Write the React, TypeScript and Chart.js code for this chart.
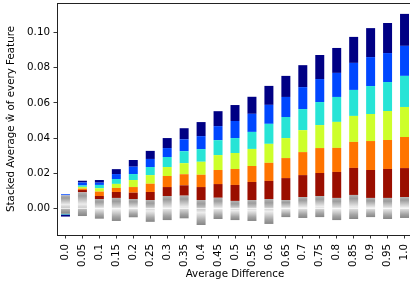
import React, { useEffect, useRef } from "react";
import { Chart, registerables } from "chart.js";

Chart.register(...registerables);

const categories = ["0.0", "0.05", "0.1", "0.15", "0.2", "0.25", "0.3", "0.35", "0.4", "0.45", "0.5", "0.55", "0.6", "0.65", "0.7", "0.75", "0.8", "0.85", "0.9", "0.95", "1.0"];

const grayTop = [0.0074, 0.0091, 0.0053, 0.0059, 0.0053, 0.0047, 0.007, 0.0072, 0.0047, 0.006, 0.0042, 0.0047, 0.0053, 0.0047, 0.0064, 0.007, 0.0059, 0.0076, 0.0059, 0.0059, 0.0064];
const grayBottom = [-0.0031, -0.0044, -0.0059, -0.0072, -0.0051, -0.0077, -0.0067, -0.0057, -0.0095, -0.0061, -0.0067, -0.0072, -0.0089, -0.005, -0.0055, -0.005, -0.0067, -0.0061, -0.005, -0.0061, -0.0055];

const redVals = [0, 0.0013, 0.0017, 0.0034, 0.0036, 0.0046, 0.0051, 0.0059, 0.0074, 0.0078, 0.0091, 0.0103, 0.0103, 0.0125, 0.0125, 0.0131, 0.0148, 0.0154, 0.0159, 0.0165, 0.0165];
const orangeVals = [0, 0.0008, 0.0025, 0.0023, 0.0032, 0.0047, 0.0063, 0.0063, 0.007, 0.008, 0.0091, 0.0091, 0.0103, 0.0114, 0.0131, 0.0142, 0.0137, 0.0148, 0.0165, 0.0165, 0.0177];
const yellowVals = [0, 0.001, 0.0019, 0.0023, 0.004, 0.0049, 0.0051, 0.0063, 0.0074, 0.0085, 0.0091, 0.0097, 0.0108, 0.0114, 0.0125, 0.0131, 0.0148, 0.0148, 0.0154, 0.0165, 0.0171];
const cyanVals = [-0.0004, 0.0008, 0.0019, 0.0028, 0.0034, 0.0046, 0.0057, 0.0068, 0.0072, 0.0085, 0.0085, 0.0097, 0.0114, 0.012, 0.012, 0.0131, 0.0142, 0.0148, 0.0159, 0.0165, 0.0177];
const blueVals = [0.0006, 0.0017, 0.0013, 0.0028, 0.0042, 0.0046, 0.0051, 0.0068, 0.0074, 0.008, 0.0097, 0.0103, 0.0108, 0.0114, 0.0125, 0.0131, 0.0137, 0.0154, 0.0165, 0.0165, 0.0171];
const navyVals = [-0.0012, 0.001, 0.0015, 0.0028, 0.0038, 0.0046, 0.0057, 0.0063, 0.008, 0.0085, 0.0091, 0.0097, 0.0108, 0.012, 0.0125, 0.0137, 0.0142, 0.0148, 0.0165, 0.0171, 0.0182];

const yTicks = [0, 0.02, 0.04, 0.06, 0.08, 0.1];

const FONT = { family: "'DejaVu Sans', sans-serif", size: 10.3 };

const grayStops: [number, string][] = [
  [0, "#b4b4b4"],
  [0.15, "#9c9c9c"],
  [0.35, "#cacaca"],
  [0.5, "#ececec"],
  [0.65, "#cccccc"],
  [0.82, "#a4a4a4"],
  [1, "#858585"],
];

function grayFill(ctx: any) {
  const chart = ctx.chart;
  const ys = chart.scales && chart.scales.y;
  if (!ys || ctx.type !== "data") return "#c0c0c0";
  const i = ctx.dataIndex;
  const y0 = ys.getPixelForValue(grayTop[i]);
  const y1 = ys.getPixelForValue(grayBottom[i]);
  if (!isFinite(y0) || !isFinite(y1) || y0 === y1) return "#c0c0c0";
  const g = chart.ctx.createLinearGradient(0, y0, 0, y1);
  grayStops.forEach(([o, c]) => g.addColorStop(o, c));
  return g;
}

const topSpine = {
  id: "topSpine",
  afterDraw(chart: any) {
    const { ctx, chartArea } = chart;
    ctx.save();
    ctx.strokeStyle = "#222";
    ctx.lineWidth = 1;
    ctx.beginPath();
    ctx.moveTo(chartArea.left, chartArea.top + 0.5);
    ctx.lineTo(chartArea.right, chartArea.top + 0.5);
    ctx.stroke();
    ctx.restore();
  },
};

export default function App() {
  const ref = useRef<HTMLCanvasElement>(null);
  useEffect(() => {
    if (!ref.current) return;
    const mk = (label: string, data: number[], color: any) => ({
      label,
      data,
      backgroundColor: color,
      borderWidth: 0,
      barPercentage: 0.53,
      categoryPercentage: 1,
    });
    const noPad = (s: any) => {
      s.paddingTop = 0;
      s.paddingBottom = 0;
      s.paddingLeft = 0;
      s.paddingRight = 0;
    };
    const chart = new Chart(ref.current, {
      type: "bar",
      data: {
        labels: categories,
        datasets: [
          mk("grayPos", grayTop, grayFill),
          mk("grayNeg", grayBottom, grayFill),
          mk("f1", redVals, "#9a0e00"),
          mk("f2", orangeVals, "#ff7400"),
          mk("f3", yellowVals, "#cdff2b"),
          mk("f4", cyanVals, "#27e4d6"),
          mk("f5", blueVals, "#0047ff"),
          mk("f6", navyVals, "#000084"),
        ],
      },
      options: {
        animation: false,
        responsive: false,
        devicePixelRatio: 1,
        layout: { padding: { left: 0, top: 3, right: 1, bottom: 0 } },
        plugins: { legend: { display: false }, tooltip: { enabled: false } },
        scales: {
          x: {
            type: "category",
            stacked: true,
            offset: true,
            grid: { display: true, offset: false, drawOnChartArea: false, drawTicks: true, tickLength: 3.5, color: "#000", lineWidth: 0.8 },
            border: { display: true, color: "#222", width: 1 },
            ticks: { color: "#000", font: FONT, minRotation: 90, maxRotation: 90, padding: 5.5, autoSkip: false },
            title: { display: true, text: "Average Difference", color: "#000", font: FONT, padding: { top: 0, bottom: 5.8 } },
            afterFit: (s: any) => { s.height = 51; noPad(s); },
          },
          y: {
            stacked: true,
            min: -0.0152,
            max: 0.1169,
            afterBuildTicks: (s: any) => { s.ticks = yTicks.map((v) => ({ value: v })); },
            grid: { display: true, drawOnChartArea: false, drawTicks: true, tickLength: 3.5, color: "#000", lineWidth: 0.8 },
            border: { display: true, color: "#222", width: 1 },
            ticks: { color: "#000", font: FONT, padding: 3.5, callback: (v: any) => Number(v).toFixed(2) },
            title: { display: true, text: "Stacked Average ŵ of every Feature", color: "#000", font: FONT, padding: { top: 4.8, bottom: 0 } },
            afterFit: (s: any) => { s.width = 57; noPad(s); },
          },
        },
      },
      plugins: [topSpine],
    });
    return () => chart.destroy();
  }, []);
  return (
    <div style={{ position: "absolute", left: 0, top: 0, width: 410, height: 286, overflow: "hidden", background: "#fff" }}>
      <canvas ref={ref} width={414} height={286} style={{ display: "block", width: 414, height: 286 }} />
    </div>
  );
}
